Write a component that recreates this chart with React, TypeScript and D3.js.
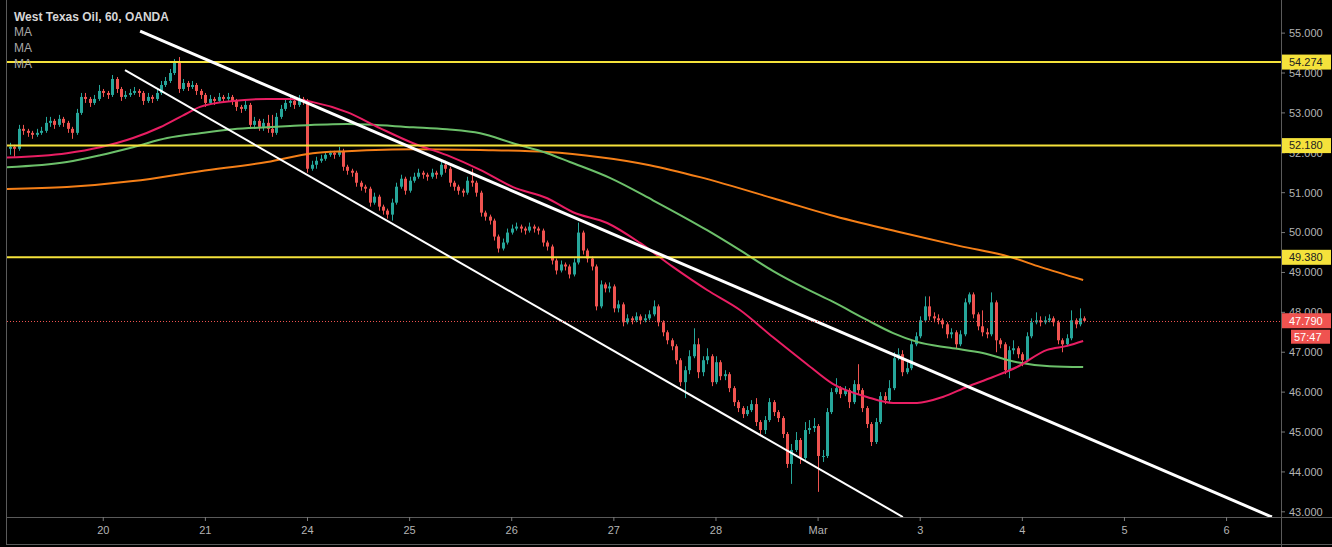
import React from "react";
import * as d3 from "d3";

// ---------- DATA ----------
const title = "West Texas Oil, 60, OANDA";
const legendItems = ["MA", "MA", "MA"];

const firstOpen = 52.1;
const closes = [
  52.15,52.1,52.6,52.55,52.5,52.45,52.5,52.55,52.75,52.8,
  52.7,52.85,52.75,52.6,52.5,53.0,53.4,53.35,53.25,53.35,
  53.55,53.5,53.45,53.85,53.6,53.4,53.45,53.5,53.55,53.5,
  53.3,53.4,53.35,53.5,53.7,53.8,54.0,54.25,53.6,53.75,
  53.65,53.7,53.55,53.45,53.25,53.35,53.3,53.4,53.35,53.4,
  53.3,53.15,53.1,53.2,52.7,52.8,52.65,52.75,52.6,52.5,
  52.9,53.1,53.25,53.3,53.2,53.35,53.3,51.6,51.7,51.8,
  51.85,51.95,52.0,51.95,52.05,51.65,51.55,51.5,51.25,51.15,
  51.1,50.75,50.9,50.65,50.55,50.45,50.75,51.15,51.35,51.05,
  51.3,51.4,51.5,51.45,51.4,51.5,51.45,51.7,51.6,51.25,
  51.15,51.05,51.0,51.3,51.25,51.0,50.5,50.4,50.3,49.9,
  49.6,49.75,50.0,50.1,50.15,50.1,50.05,50.15,50.1,50.05,
  49.75,49.65,49.3,49.05,49.2,49.15,48.95,49.25,50.0,49.55,
  49.35,49.15,48.15,48.7,48.6,48.65,48.1,48.2,47.75,47.85,
  47.8,47.9,47.8,47.85,47.95,48.15,47.75,47.5,47.3,47.15,
  46.8,46.25,46.55,46.9,47.2,46.5,46.8,46.9,46.25,46.75,
  46.4,46.45,46.1,45.75,45.6,45.45,45.55,45.7,45.25,45.05,
  45.3,45.75,45.5,45.35,44.95,44.2,44.55,44.8,44.35,45.05,
  45.1,45.15,44.4,44.4,45.5,46.0,46.1,45.95,46.05,45.75,
  46.2,46.05,45.6,45.2,44.75,45.25,45.9,45.8,46.1,46.85,
  46.95,46.5,46.6,47.2,47.4,47.8,48.15,47.9,47.85,47.8,
  47.7,47.45,47.5,47.2,47.45,48.25,48.45,47.95,47.65,47.5,
  47.45,48.25,47.3,47.2,46.55,47.05,47.1,46.95,46.8,47.4,
  47.75,47.8,47.75,47.8,47.85,47.75,47.3,47.2,47.35,47.8,
  47.7,47.85,47.79,
];
const highs = [
  52.25,52.2,52.7,52.7,52.6,52.55,52.6,52.65,52.9,52.9,
  52.85,52.95,52.9,52.8,52.65,53.1,53.5,53.5,53.4,53.45,
  53.7,53.6,53.55,53.95,53.9,53.65,53.55,53.6,53.65,53.6,
  53.55,53.5,53.45,53.6,53.8,53.9,54.1,54.35,54.4,53.85,
  53.8,53.8,53.75,53.6,53.5,53.45,53.4,53.5,53.45,53.5,
  53.45,53.35,53.2,53.3,53.25,52.9,52.85,52.85,52.95,52.95,
  53.0,53.2,53.35,53.4,53.35,53.45,53.4,53.35,51.8,51.9,
  51.95,52.0,52.05,52.05,52.15,52.1,51.7,51.6,51.55,51.3,
  51.2,51.15,51.0,50.95,50.7,50.6,50.85,51.25,51.45,51.4,
  51.4,51.5,51.6,51.55,51.5,51.6,51.55,51.8,51.8,51.65,
  51.3,51.2,51.1,51.4,51.6,51.3,51.05,50.55,50.45,50.35,
  49.95,49.85,50.1,50.2,50.25,50.2,50.15,50.25,50.2,50.15,
  50.1,49.8,49.7,49.35,49.3,49.25,49.2,49.35,50.25,50.05,
  49.6,49.4,49.2,48.8,48.75,48.75,48.7,48.3,48.25,47.95,
  47.9,48.0,47.95,47.95,48.05,48.3,48.2,47.8,47.55,47.35,
  47.2,46.85,46.65,47.05,47.6,47.35,46.9,47.1,46.95,46.9,
  46.8,46.55,46.5,46.15,45.8,45.65,45.65,45.8,45.85,45.3,
  45.4,45.85,45.8,45.55,45.4,45.0,44.7,45.0,44.85,45.25,
  45.3,45.35,45.2,44.55,45.6,46.1,46.35,46.15,46.15,46.1,
  46.3,46.7,46.1,45.65,45.25,45.35,46.0,46.0,46.3,47.0,
  47.1,47.05,46.75,47.3,47.5,47.9,48.4,48.4,48.0,47.95,
  47.85,47.75,47.6,47.55,47.55,48.35,48.5,48.5,48.0,48.05,
  47.6,48.5,48.3,47.35,47.25,47.15,47.3,47.15,47.0,47.5,
  47.85,48.0,47.9,47.9,47.95,47.9,47.8,47.35,47.45,48.05,
  47.85,48.1,47.9,
];
const lows = [
  51.95,51.9,52.05,52.45,52.4,52.35,52.4,52.45,52.5,52.65,
  52.6,52.65,52.65,52.5,52.35,52.45,52.95,53.25,53.15,53.2,
  53.3,53.4,53.35,53.4,53.5,53.3,53.35,53.4,53.45,53.4,
  53.2,53.25,53.25,53.3,53.45,53.65,53.75,53.95,53.5,53.55,
  53.55,53.6,53.45,53.35,53.15,53.2,53.2,53.25,53.25,53.3,
  53.2,53.05,53.0,53.05,52.6,52.6,52.55,52.55,52.5,52.4,
  52.45,52.85,53.05,53.15,53.1,53.15,53.2,51.5,51.55,51.6,
  51.75,51.8,51.9,51.85,51.9,51.55,51.45,51.4,51.15,51.05,
  51.0,50.65,50.7,50.55,50.45,50.35,50.3,50.7,51.1,50.95,
  51.0,51.25,51.35,51.35,51.3,51.35,51.35,51.4,51.5,51.15,
  51.05,50.95,50.9,50.95,51.15,50.9,50.4,50.3,50.2,49.8,
  49.5,49.55,49.7,49.95,50.05,50.0,49.95,50.0,50.0,49.95,
  49.65,49.55,49.2,48.95,49.0,49.05,48.85,48.9,49.2,49.45,
  49.25,49.05,48.05,48.1,48.5,48.5,48.0,48.0,47.65,47.7,
  47.7,47.75,47.7,47.75,47.8,47.9,47.65,47.4,47.2,47.05,
  46.7,46.15,45.85,46.45,46.85,46.35,46.4,46.7,46.15,46.2,
  46.3,46.3,46.0,45.65,45.5,45.35,45.4,45.5,45.15,44.95,
  44.95,45.25,45.4,45.25,44.85,44.1,43.7,44.5,44.2,44.3,
  44.95,45.0,43.5,44.25,44.35,45.45,45.95,45.85,45.9,45.6,
  45.7,45.95,45.5,45.1,44.65,44.7,45.2,45.7,45.75,46.05,
  46.8,46.4,46.45,46.55,47.15,47.35,47.75,47.8,47.75,47.7,
  47.6,47.35,47.35,47.1,47.15,47.4,48.2,47.85,47.55,47.4,
  47.35,47.4,47.0,47.1,46.45,46.35,46.95,46.85,46.65,46.75,
  47.35,47.7,47.65,47.7,47.75,47.65,47.2,47.0,47.15,47.3,
  47.6,47.65,47.75,
];

// Moving averages: [bar index, price]
const maFast = [
  [-0.7,51.88],[12.8,51.99],[20.3,52.14],[27.7,52.37],[33.8,52.64],[39.0,52.94],[42.8,53.15],
  [50.2,53.3],[57.9,53.35],[63.1,53.35],[68.2,53.27],[75.9,53.02],[83.3,52.62],[90.8,52.24],
  [98.4,51.94],[105.9,51.57],[113.3,51.14],[121.0,50.86],[126.8,50.51],[134.5,50.24],
  [141.9,49.74],[149.3,49.14],[157.0,48.56],[164.4,48.06],[171.8,47.38],[179.5,46.7],
  [185.4,46.2],[193.0,45.88],[198.9,45.73],[204.3,45.73],[210.1,45.88],[215.5,46.13],
  [221.4,46.38],[226.8,46.63],[233.6,47.06],[238.1,47.16],[241.7,47.28],
];
const maMid = [
  [-0.7,51.64],[12.8,51.77],[20.3,51.94],[27.7,52.14],[35.4,52.37],[42.8,52.49],[50.2,52.59],
  [57.9,52.64],[63.1,52.67],[75.9,52.72],[90.8,52.64],[98.4,52.59],[105.9,52.49],
  [113.3,52.24],[121.0,51.99],[126.1,51.77],[135.1,51.37],[144.8,50.81],[157.0,50.06],
  [164.4,49.56],[171.8,49.04],[179.5,48.58],[185.4,48.26],[193.0,47.81],[198.9,47.48],
  [204.3,47.26],[211.7,47.11],[219.1,46.98],[226.8,46.75],[234.2,46.65],[241.7,46.63],
];
const maSlow = [
  [-0.7,51.09],[12.8,51.14],[27.7,51.29],[42.8,51.54],[57.9,51.77],[68.2,51.99],[75.9,52.04],
  [90.8,52.09],[105.9,52.07],[121.0,52.02],[132.9,51.89],[144.1,51.69],[155.4,51.39],
  [173.4,50.81],[184.7,50.44],[200.5,50.01],[214.0,49.66],[225.2,49.39],[232.0,49.14],
  [241.7,48.81],
];

// Channel trend lines: two anchor points [bar index, price]
const upperChannel = [[29.3, 55.05], [284.2, 42.87]];
const lowerChannel = [[25.9, 54.07], [201.1, 42.87]];

// Horizontal levels
const levels = [54.274, 52.18, 49.38];
const lastPrice = 47.79;
const countdown = "57:47";

// Axis ticks
const priceTicks = [43, 44, 45, 46, 47, 48, 49, 50, 51, 52, 53, 54, 55];
const dayTickIdx = [21, 44, 67, 90, 113, 136, 159, 182, 205, 228, 251, 274];
const dayLabels = ["20", "21", "24", "25", "26", "27", "28", "Mar", "3", "4", "5", "6"];

// ---------- LAYOUT ----------
const W = 1332;
const H = 547;
const PL = 7;
const PR = 1281;
const PB = 517;
const X_DOMAIN = [-0.68, 286.26];
const Y_DOMAIN = [42.87, 55.83];

const UP = "#26a69a";
const DOWN = "#ef5350";
const YELLOW = "#f5e23b";
const AXIS_TXT = "#b4b4b4";
const FONT = "'Liberation Sans', Arial, sans-serif";

export default function App() {
  const x = d3.scaleLinear().domain(X_DOMAIN).range([PL, PR]);
  const y = d3.scaleLinear().domain(Y_DOMAIN).range([PB, 0]);

  const candles = closes.map((c, i) => {
    const o = i === 0 ? firstOpen : closes[i - 1];
    const h = Math.max(highs[i], o, c);
    const l = Math.min(lows[i], o, c);
    return { i, o, c, h, l };
  });

  const maLine = d3
    .line<number[]>()
    .x((d) => x(d[0]))
    .y((d) => y(d[1]))
    .curve(d3.curveMonotoneX);
  const straight = d3
    .line<number[]>()
    .x((d) => x(d[0]))
    .y((d) => y(d[1]));

  return (
    <svg
      width={W}
      height={H}
      style={{ position: "absolute", left: 0, top: 0, display: "block" }}
    >
      <defs>
        <clipPath id="plot">
          <rect x={PL} y={0} width={PR - PL} height={PB} />
        </clipPath>
      </defs>
      <rect x={0} y={0} width={W} height={H} fill="#000" />

      <g clipPath="url(#plot)">
        {/* candles */}
        {candles.map((d) => {
          const cx = Math.round(x(d.i)) + 0.5;
          const up = d.c >= d.o;
          const col = up ? UP : DOWN;
          const top = y(Math.max(d.o, d.c));
          const bot = y(Math.min(d.o, d.c));
          return (
            <g key={d.i}>
              <line x1={cx} x2={cx} y1={y(d.h)} y2={y(d.l)} stroke={col} strokeWidth={1} />
              <rect x={cx - 1.5} y={top} width={3} height={Math.max(1, bot - top)} fill={col} />
            </g>
          );
        })}

        {/* moving averages */}
        <path d={maLine(maSlow) || ""} fill="none" stroke="#f57f17" strokeWidth={2} />
        <path d={maLine(maMid) || ""} fill="none" stroke="#6cc06a" strokeWidth={2} />
        <path d={maLine(maFast) || ""} fill="none" stroke="#e91e63" strokeWidth={2} />

        {/* horizontal levels */}
        {levels.map((p) => (
          <line key={p} x1={PL} x2={PR} y1={y(p)} y2={y(p)} stroke={YELLOW} strokeWidth={2} />
        ))}

        {/* channel lines */}
        <path d={straight(upperChannel) || ""} fill="none" stroke="#fff" strokeWidth={3} />
        <path d={straight(lowerChannel) || ""} fill="none" stroke="#fff" strokeWidth={2} />

        {/* last price dotted line */}
        <line
          x1={PL}
          x2={PR}
          y1={Math.round(y(lastPrice)) + 0.5}
          y2={Math.round(y(lastPrice)) + 0.5}
          stroke={DOWN}
          strokeWidth={1}
          strokeDasharray="1,2"
        />
      </g>

      {/* legend */}
      <text x={14} y={21} fill="#d6d6d6" fontFamily={FONT} fontSize={12} fontWeight={700}>
        {title}
      </text>
      {legendItems.map((t, k) => (
        <text key={k} x={14} y={36 + k * 16} fill="#a8a8a8" fontFamily={FONT} fontSize={12}>
          {t}
        </text>
      ))}

      {/* axes frame */}
      <line x1={PR + 0.5} x2={PR + 0.5} y1={0} y2={H} stroke="#5a5a5a" />
      <line x1={PL} x2={W} y1={PB + 0.5} y2={PB + 0.5} stroke="#5a5a5a" />
      <line x1={PL - 0.5} x2={PL - 0.5} y1={0} y2={H - 2} stroke="#5a5a5a" />
      <line x1={PL - 0.5} x2={W} y1={H - 2.5} y2={H - 2.5} stroke="#5a5a5a" />

      {/* price axis */}
      {priceTicks.map((p) => (
        <g key={p}>
          <line x1={PR} x2={PR + 4} y1={y(p)} y2={y(p)} stroke="#7a7a7a" />
          <text
            x={PR + 8}
            y={y(p)}
            dy="0.35em"
            fill={AXIS_TXT}
            fontFamily={FONT}
            fontSize={11}
          >
            {p.toFixed(3)}
          </text>
        </g>
      ))}

      {/* time axis */}
      {dayTickIdx.map((i, k) => (
        <g key={i}>
          <line x1={x(i)} x2={x(i)} y1={PB} y2={PB + 4} stroke="#7a7a7a" />
          <text
            x={x(i)}
            y={PB + 17}
            textAnchor="middle"
            fill={AXIS_TXT}
            fontFamily={FONT}
            fontSize={11}
          >
            {dayLabels[k]}
          </text>
        </g>
      ))}

      {/* level labels */}
      {levels.map((p) => (
        <g key={"l" + p}>
          <rect x={PR + 1} y={y(p) - 7.5} width={W - PR - 2} height={15} fill={YELLOW} />
          <text
            x={PR + 8}
            y={y(p)}
            dy="0.35em"
            fill="#222"
            fontFamily={FONT}
            fontSize={11}
          >
            {p.toFixed(3)}
          </text>
        </g>
      ))}

      {/* last price label and countdown */}
      <rect x={PR + 1} y={y(lastPrice) - 7.5} width={W - PR - 2} height={15} fill={DOWN} />
      <text
        x={PR + 8}
        y={y(lastPrice)}
        dy="0.35em"
        fill="#fff"
        fontFamily={FONT}
        fontSize={11}
      >
        {lastPrice.toFixed(3)}
      </text>
      <rect x={PR + 10} y={y(lastPrice) + 9} width={W - PR - 12} height={14} fill={DOWN} />
      <text
        x={PR + 13}
        y={y(lastPrice) + 16}
        dy="0.35em"
        fill="#fff"
        fontFamily={FONT}
        fontSize={11}
      >
        {countdown}
      </text>
    </svg>
  );
}
